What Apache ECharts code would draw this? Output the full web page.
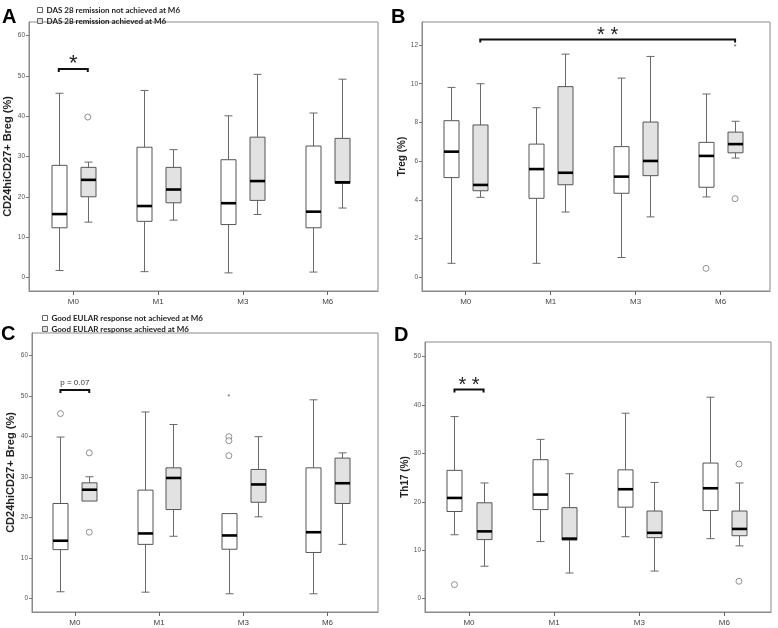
<!DOCTYPE html>
<html><head><meta charset="utf-8">
<script src="https://cdn.jsdelivr.net/npm/echarts@6/dist/echarts.min.js"></script>
<style>html,body{margin:0;padding:0;background:#fff}#c{width:778px;height:628px}</style>
</head><body><div id="c"></div>
<script>
const CATEGORIES = ['M0', 'M1', 'M3', 'M6'];
const TICKS_A = [0, 10, 20, 30, 40, 50, 60];
const TICKS_B = [0, 2, 4, 6, 8, 10, 12];
const TICKS_C = [0, 10, 20, 30, 40, 50, 60];
const TICKS_D = [0, 10, 20, 30, 40, 50];

// [min, Q1, median, Q3, max] per category M0, M1, M3, M6
const A_NOT = [[1.7, 12.3, 15.7, 27.8, 45.7], [1.4, 13.9, 17.7, 32.3, 46.4], [1.1, 13.1, 18.4, 29.2, 40.1], [1.3, 12.3, 16.3, 32.6, 40.8]];
const A_ACH = [[13.7, 20.0, 24.2, 27.3, 28.6], [14.2, 18.5, 21.8, 27.3, 31.7], [15.6, 19.1, 23.9, 34.8, 50.4], [17.2, 23.3, 23.6, 34.5, 49.2]];
const A_OUT_NOT = [];
const A_OUT_ACH = [[0, 39.8]];

const B_NOT = [[0.72, 5.15, 6.49, 8.09, 9.81], [0.72, 4.08, 5.59, 6.88, 8.76], [1.02, 4.34, 5.20, 6.75, 10.29], [4.15, 4.65, 6.27, 6.97, 9.47]];
const B_ACH = [[4.13, 4.47, 4.77, 7.87, 10.0], [3.37, 4.78, 5.40, 9.85, 11.53], [3.12, 5.25, 6.01, 8.02, 11.41], [6.16, 6.43, 6.88, 7.50, 8.06]];
const B_OUT_NOT = [[3, 0.46]];
const B_OUT_ACH = [[3, 4.06]];
const B_EXT_ACH = [[3, 12.0]];

const C_NOT = [[1.7, 12.1, 14.3, 23.5, 39.9], [1.6, 13.4, 16.1, 26.8, 46.1], [1.2, 12.2, 15.6, 21.0, 21.0], [1.2, 11.4, 16.4, 32.3, 49.1]];
const C_ACH = [[24.1, 24.1, 26.9, 28.6, 30.1], [15.4, 22.0, 29.8, 32.3, 43.0], [20.2, 23.8, 28.2, 31.9, 40.0], [13.4, 23.5, 28.5, 34.7, 36.0]];
const C_OUT_NOT = [[0, 45.7], [2, 40.0], [2, 39.0], [2, 35.3]];
const C_OUT_ACH = [[0, 36.0], [0, 16.4]];
const C_EXT_NOT = [[2, 50.5]];

const D_NOT = [[13.2, 18.0, 20.8, 26.5, 37.6], [11.8, 18.4, 21.5, 28.7, 32.9], [12.8, 18.9, 22.6, 26.6, 38.3], [12.4, 18.2, 22.8, 28.0, 41.6]];
const D_ACH = [[6.7, 12.2, 13.9, 19.8, 23.9], [5.3, 12.1, 12.4, 18.8, 25.8], [5.7, 12.6, 13.6, 18.1, 24.0], [10.9, 13.0, 14.4, 18.1, 23.9]];
const D_OUT_NOT = [[0, 2.9]];
const D_OUT_ACH = [[3, 27.8], [3, 3.6]];

// significance brackets: [fromCat, fromGroup, toCat, toGroup, y, label]
const A_SIG = [[0, 0, 0, 1, 51.7, '*']];
const B_SIG = [[0, 1, 3, 1, 12.29, '* *']];
const C_SIG = [[0, 0, 0, 1, 51.5, 'p = 0.07']];
const D_SIG = [[0, 0, 0, 1, 43.2, '* *']];

const LEGEND_A = ['DAS 28 remission not achieved at M6', 'DAS 28 remission achieved at M6'];
const LEGEND_C = ['Good EULAR response not achieved at M6', 'Good EULAR response achieved at M6'];
const Y_NAMES = ['CD24hiCD27+ Breg (%)', 'Treg (%)', 'CD24hiCD27+ Breg (%)', 'Th17 (%)'];

const OFF = [-0.171, 0.171];
const WHITE = '#ffffff', GREY = '#e2e2e2';
const FONT = 'Liberation Sans, Arial, sans-serif';

const chart = echarts.init(document.getElementById('c'), null, {renderer: 'canvas'});

const panels = [
  {grid: {left: 29, top: 22, width: 349, height: 269}, x: [-0.522, 3.593], y: [-3.4, 63.4], ticks: TICKS_A,
   not: A_NOT, ach: A_ACH, outN: A_OUT_NOT, outA: A_OUT_ACH, extN: [], extA: [], sig: A_SIG, names: LEGEND_A, nameSize: 11, nameGap: 8, sigSize: 22},
  {grid: {left: 422, top: 22, width: 348, height: 269}, x: [-0.515, 3.582], y: [-0.71, 13.19], ticks: TICKS_B,
   not: B_NOT, ach: B_ACH, outN: B_OUT_NOT, outA: B_OUT_ACH, extN: [], extA: B_EXT_ACH, sig: B_SIG, names: ['B not', 'B ach'], nameSize: 10, nameGap: 13, sigSize: 20},
  {grid: {left: 32, top: 333, width: 346, height: 279}, x: [-0.509, 3.60], y: [-3.3, 65.6], ticks: TICKS_C,
   not: C_NOT, ach: C_ACH, outN: C_OUT_NOT, outA: C_OUT_ACH, extN: C_EXT_NOT, extA: [], sig: C_SIG, names: LEGEND_C, nameSize: 11, nameGap: 9, sigSize: 8},
  {grid: {left: 425, top: 342, width: 346, height: 270}, x: [-0.517, 3.547], y: [-2.75, 53.0], ticks: TICKS_D,
   not: D_NOT, ach: D_ACH, outN: D_OUT_NOT, outA: D_OUT_ACH, extN: [], extA: [], sig: D_SIG, names: ['D not', 'D ach'], nameSize: 10, nameGap: 14, sigSize: 20}
];

function boxRenderer(offset, boxPx, fill) {
  return function (params, api) {
    const i = api.value(0) + offset;
    const lo = api.coord([i, api.value(1)]);
    const q1 = api.coord([i, api.value(2)]);
    const md = api.coord([i, api.value(3)]);
    const q3 = api.coord([i, api.value(4)]);
    const hi = api.coord([i, api.value(5)]);
    const x = Math.round(lo[0]) + 0.5, hw = boxPx / 2, cw = 4;
    const ws = {stroke: '#6a6a6a', lineWidth: 1};
    const children = [];
    if (hi[1] < q3[1] - 0.5) {
      children.push({type: 'line', shape: {x1: x, y1: hi[1], x2: x, y2: q3[1]}, style: ws});
      children.push({type: 'line', shape: {x1: x - cw, y1: hi[1], x2: x + cw, y2: hi[1]}, style: ws});
    }
    if (lo[1] > q1[1] + 0.5) {
      children.push({type: 'line', shape: {x1: x, y1: q1[1], x2: x, y2: lo[1]}, style: ws});
      children.push({type: 'line', shape: {x1: x - cw, y1: lo[1], x2: x + cw, y2: lo[1]}, style: ws});
    }
    children.push({type: 'rect', shape: {x: x - hw, y: q3[1], width: boxPx, height: q1[1] - q3[1]}, style: {fill: fill, stroke: '#555', lineWidth: 1}});
    children.push({type: 'line', shape: {x1: x - hw, y1: md[1], x2: x + hw, y2: md[1]}, style: {stroke: '#000', lineWidth: 2.6}});
    return {type: 'group', children: children};
  };
}

function sigRenderer(size) {
  return function (params, api) {
    const a = api.coord([api.value(0), api.value(2)]);
    const b = api.coord([api.value(1), api.value(2)]);
    const label = api.value(3);
    const isStar = String(label).indexOf('*') >= 0;
    return {type: 'group', children: [
      {type: 'polyline', shape: {points: [[a[0], a[1] + 3], [a[0], a[1]], [b[0], a[1]], [b[0], a[1] + 3]]}, style: {stroke: '#111', lineWidth: 2, fill: null}},
      {type: 'text', style: {text: label, x: (a[0] + b[0]) / 2, y: isStar ? a[1] + size * 0.28 : a[1] - 3, align: 'center', verticalAlign: 'bottom',
        font: size + 'px ' + FONT, fill: isStar ? '#222' : '#333'}}
    ]};
  };
}

function extRenderer(offset) {
  return function (params, api) {
    const p = api.coord([api.value(0) + offset, api.value(1)]);
    return {type: 'text', style: {text: '*', x: p[0], y: p[1] + 2.5, align: 'center', verticalAlign: 'middle', font: '7px ' + FONT, fill: '#555'}};
  };
}

const grids = [], xAxes = [], yAxes = [], series = [];
panels.forEach(function (p, k) {
  grids.push(Object.assign({show: true, borderColor: '#8a8a8a', borderWidth: 1, backgroundColor: 'transparent'}, p.grid));
  xAxes.push({type: 'value', gridIndex: k, min: p.x[0], max: p.x[1],
    axisLine: {show: true, onZero: false, lineStyle: {color: '#8a8a8a'}},
    axisTick: {show: true, length: 4, customValues: [0, 1, 2, 3], lineStyle: {color: '#666'}},
    axisLabel: {customValues: [0, 1, 2, 3], formatter: function (v) { return CATEGORIES[Math.round(v)]; }, fontSize: 8, color: '#444', margin: 7, fontFamily: FONT},
    splitLine: {show: false}});
  yAxes.push({type: 'value', gridIndex: k, min: p.y[0], max: p.y[1],
    name: Y_NAMES[k], nameLocation: 'middle', nameRotate: 90, nameGap: p.nameGap,
    nameTextStyle: {fontSize: p.nameSize, fontWeight: 'bold', color: '#222', fontFamily: FONT},
    axisLine: {show: true, onZero: false, lineStyle: {color: '#8a8a8a'}},
    axisTick: {show: true, length: 3, customValues: p.ticks, lineStyle: {color: '#777'}},
    axisLabel: {customValues: p.ticks, fontSize: 6.5, color: '#555', margin: 4, fontFamily: FONT},
    splitLine: {show: false}});
  const groups = [[p.not, WHITE, p.names[0], p.outN, p.extN], [p.ach, GREY, p.names[1], p.outA, p.extA]];
  groups.forEach(function (g, j) {
    series.push({type: 'custom', name: g[2], xAxisIndex: k, yAxisIndex: k,
      renderItem: boxRenderer(OFF[j], 15, g[1]),
      itemStyle: {color: g[1], borderColor: '#666'},
      encode: {x: 0, y: [1, 2, 3, 4, 5]},
      data: g[0].map(function (b, i) { return [i].concat(b); }), silent: true, z: 2});
    series.push({type: 'scatter', xAxisIndex: k, yAxisIndex: k, symbol: 'circle', symbolSize: 6,
      itemStyle: {color: '#fff', borderColor: '#777', borderWidth: 1},
      data: g[3].map(function (o) { return [o[0] + OFF[j], o[1]]; }), silent: true, z: 3});
    if (g[4].length) {
      series.push({type: 'custom', xAxisIndex: k, yAxisIndex: k, renderItem: extRenderer(OFF[j]),
        data: g[4], silent: true, z: 3});
    }
  });
  series.push({type: 'custom', xAxisIndex: k, yAxisIndex: k, renderItem: sigRenderer(p.sigSize),
    encode: {x: [0, 1], y: 2},
    data: p.sig.map(function (s) { return [s[0] + OFF[s[1]], s[2] + OFF[s[3]], s[4], s[5]]; }), silent: true, z: 4});
});

function legendFor(names, left, top) {
  return {orient: 'vertical', left: left, top: top, itemWidth: 5, itemHeight: 5, itemGap: 1, selectedMode: false,
    textStyle: {fontSize: 8, fontWeight: 'bold', color: '#222', fontFamily: 'Lato, sans-serif', lineHeight: 10, padding: [0, 0, 0, -1]},
    data: [{name: names[0], icon: 'rect', itemStyle: {color: WHITE, borderColor: '#666', borderWidth: 1}},
           {name: names[1], icon: 'rect', itemStyle: {color: GREY, borderColor: '#666', borderWidth: 1}}]};
}

const letter = function (t, x, y) {
  return {type: 'text', left: x, top: y, style: {text: t, font: 'bold 20px ' + FONT, fill: '#000'}};
};

chart.setOption({
  animation: false,
  backgroundColor: '#fff',
  grid: grids, xAxis: xAxes, yAxis: yAxes, series: series,
  legend: [legendFor(LEGEND_A, 32, 0), legendFor(LEGEND_C, 37, 308)],
  graphic: [letter('A', 2, 7), letter('B', 391, 7), letter('C', 1, 324), letter('D', 394, 325)]
});
</script></body></html>
